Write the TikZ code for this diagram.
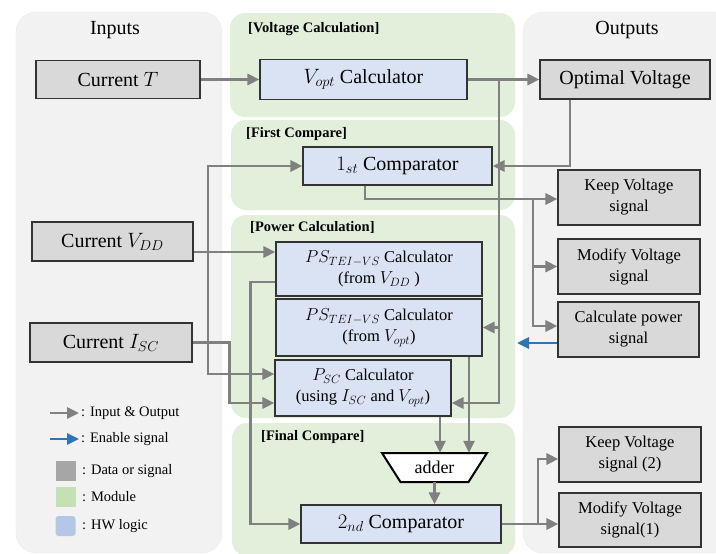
\documentclass[tikz,border=0pt]{standalone}
\usepackage{fontspec}
\setmainfont{Liberation Serif}
\usetikzlibrary{positioning,calc,arrows.meta}
\definecolor{PanelGray}{RGB}{242,242,242}
\definecolor{ModGreen}{RGB}{226,239,218}
\definecolor{DataGray}{RGB}{217,217,217}
\definecolor{HwBlue}{RGB}{218,227,243}
\definecolor{WireGray}{RGB}{128,128,128}
\definecolor{EnBlue}{RGB}{46,117,182}
\definecolor{KeyGray}{RGB}{166,166,166}
\definecolor{KeyGreen}{RGB}{197,224,180}
\definecolor{KeyBlue}{RGB}{180,199,231}
\tikzset{
  panel/.style={fill=PanelGray,draw=black!8,rounded corners=20pt},
  module/.style={fill=ModGreen,rounded corners=15pt},
  data/.style={draw=black!80,fill=DataGray,line width=1.1pt,inner sep=2pt,align=center,
    font=\fontsize{20}{22}\selectfont},
  sig/.style={data,font=\fontsize{16.5}{21}\selectfont},
  hw/.style={data,fill=HwBlue},
  hwsmall/.style={hw,font=\fontsize{16.5}{21}\selectfont},
  wire/.style={draw=WireGray,line width=2.8pt,-{Triangle[length=12pt,width=11pt]}},
  enable/.style={wire,draw=EnBlue},
  adderline/.style={draw=black,fill=white,line width=2pt,line join=miter},
}
\tikzset{title/.style={font=\fontsize{20}{22}\selectfont}, modlab/.style={anchor=west,inner sep=1pt,font=\fontsize{14.5}{16}\selectfont\bfseries}, keytxt/.style={anchor=west,inner sep=1pt,font=\fontsize{14.5}{16}\selectfont}, keysq/.style={minimum size=20pt,inner sep=0pt}}

\begin{document}
\begin{tikzpicture}[x=1pt,y=-1pt]
\useasboundingbox (0,0) rectangle (716,554);
\clip (0,0) rectangle (716,554);
\path[panel] (16,12) rectangle (222,553);
\path[panel] (523,12) rectangle (732,553);
\path[module] (230,13) rectangle (515,117);
\path[module] (231,120) rectangle (515,210);
\path[module] (231,215) rectangle (515,418);
\path[module] (232,423) rectangle (515,556);
\node[title] (tin) at (115,30) {Inputs};
\node[title] (tout) at (627,30) {Outputs};
\node[modlab] (mvc) at (247,29) {[Voltage Calculation]};
\node[modlab] (mfc) at (245,134) {[First Compare]};
\node[modlab] (mpc) at (249,227) {[Power Calculation]};
\node[modlab] (mfin) at (260,437) {[Final Compare]};
\node[data,minimum width=164pt,minimum height=38pt] (curT) at (118,79.5) {Current $T$};
\node[data,minimum width=161pt,minimum height=39pt] (curVDD) at (112.5,241.5) {Current $V_{DD}$};
\node[data,minimum width=162pt,minimum height=39pt] (curISC) at (111,342.5) {Current $I_{SC}$};
\node[hw,minimum width=207pt,minimum height=40pt] (vcalc) at (363.5,79.5) {$V_{opt}$ Calculator};
\node[data,minimum width=170pt,minimum height=39pt] (optV) at (625,79.5) {Optimal Voltage};
\node[hw,minimum width=189pt,minimum height=38pt] (cmp1) at (397.5,166) {$1_{st}$ Comparator};
\node[sig,minimum width=142pt,minimum height=55pt] (keepV) at (629,197.5) {Keep Voltage\\signal};
\node[sig,minimum width=142pt,minimum height=55pt] (modV) at (629,266.5) {Modify Voltage\\signal};
\node[sig,minimum width=141pt,minimum height=55pt] (calcP) at (628.5,329.5) {Calculate power\\signal};
\node[hwsmall,minimum width=206pt,minimum height=54pt] (psVDD) at (379,269) {$PS_{TEI-VS}$ Calculator\\(from $V_{DD}$\ )};
\node[hwsmall,minimum width=206pt,minimum height=57pt] (psVopt) at (379,327.5) {$PS_{TEI-VS}$ Calculator\\(from $V_{opt}$)};
\node[hwsmall,minimum width=176pt,minimum height=56pt] (psc) at (363,388) {$P_{SC}$ Calculator\\(using $I_{SC}$ and $V_{opt}$)};
\coordinate (adderC) at (434.5,467.5);
\path[adderline] ($(adderC)+(-52.5,-14.5)$) -- ($(adderC)+(52.5,-14.5)$) -- ($(adderC)+(34,14.5)$) -- ($(adderC)+(-34,14.5)$) -- cycle;
\node[minimum width=105pt,minimum height=29pt,inner sep=0pt,font=\fontsize{18}{20}\selectfont] (adder) at (adderC) {adder};
\node[hw,minimum width=200pt,minimum height=38pt] (cmp2) at (401,524) {$2_{nd}$ Comparator};
\node[sig,minimum width=142pt,minimum height=55pt] (keep2) at (630,454.5) {Keep Voltage\\signal (2)};
\node[sig,minimum width=142pt,minimum height=54pt] (mod1) at (630,520) {Modify Voltage\\signal(1)};
\draw[wire] (curT) -- (vcalc);
\draw[wire] (vcalc) -- (optV);
\coordinate (vbus) at (499,79.5);
\draw[wire] (vbus) |- ($(psc.east)+(0,15)$);
\draw[wire] (vbus |- psVopt.east) -- (psVopt.east);
\draw[wire] ($(optV.south)+(-55,0)$) |- (cmp1.east);
\draw[wire] ($(cmp1.south)+(-32.5,0)$) |- ($(keepV.west)+(0,1.5)$);
\coordinate (sbus) at (533,199);
\draw[wire] (sbus) |- (modV.west);
\draw[wire] (sbus) |- ($(calcP.west)+(0,-3.5)$);
\coordinate (enEnd) at (517,343);
\draw[enable] (calcP.west |- enEnd) -- (enEnd);
\coordinate (vddOut) at ($(curVDD.east)+(0,10.5)$);
\draw[wire] (vddOut) -- (vddOut -| psVDD.west);
\coordinate (lbus) at (208,252);
\draw[wire] (lbus) |- (cmp1.west);
\draw[wire] (lbus) |- ($(psc.west)+(0,-14)$);
\draw[wire] (curISC.east) -| ($(psc.west)+(-45,15)$) -- ($(psc.west)+(0,15)$);
\draw[wire] ($(psVDD.west)+(0,13)$) -| ($(cmp2.west)+(-50,0)$) -- (cmp2.west);
\draw[wire] ($(psVopt.south)+(90,0)$) -- ($(adder.north)+(34.5,0)$);
\draw[wire] ($(psc.south)+(77,0)$) -- ($(adder.north)+(5.5,0)$);
\draw[wire] (adder.south) -- (adder.south |- cmp2.north);
\coordinate (obus) at (538,524);
\draw[wire] (cmp2.east) -- (cmp2.east -| mod1.west);
\draw[wire] (obus) |- ($(keep2.west)+(0,4.5)$);
\coordinate (k1a) at (50,413);
\coordinate (k1b) at (79,413);
\draw[wire] (k1a) -- (k1b);
\node[keytxt] (k1t) at (80,413) {: Input \& Output};
\coordinate (k2a) at (50,439);
\coordinate (k2b) at (79,439);
\draw[enable] (k2a) -- (k2b);
\node[keytxt] (k2t) at (80,439) {: Enable signal};
\node[keysq,fill=KeyGray] (k3) at (65.5,471) {};
\node[keytxt] (k3t) at (81,471) {: Data or signal};
\node[keysq,fill=KeyGreen] (k4) at (65.5,497) {};
\node[keytxt] (k4t) at (81,497) {: Module};
\node[keysq,fill=KeyBlue,rounded corners=3pt] (k5) at (65.5,526) {};
\node[keytxt] (k5t) at (81,526) {: HW logic};
\end{tikzpicture}
\end{document}
